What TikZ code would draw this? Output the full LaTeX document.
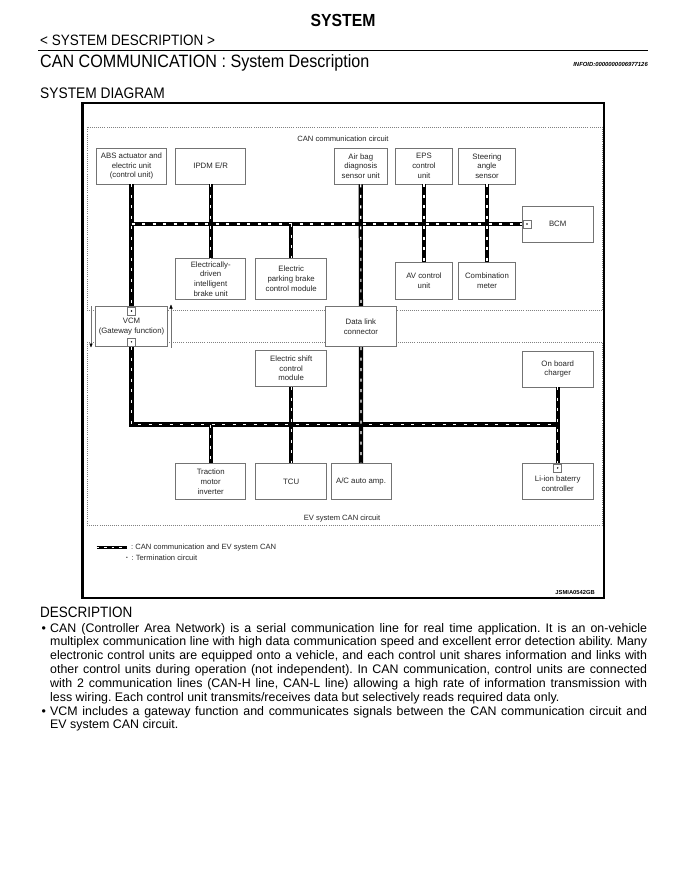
\documentclass[tikz,border=0pt]{standalone}
\usepackage{fontspec}
\setmainfont{Liberation Sans}
\newfontfamily\narrowfont[FakeStretch=0.9]{Liberation Sans}
\usetikzlibrary{arrows.meta}
\frenchspacing
\begin{document}
\begin{tikzpicture}[x=1pt,y=-1pt,
  box/.style={draw=black!55, line width=0.6pt, fill=white, align=center,
    font=\fontsize{7.8}{9.7}\selectfont, text=black!85, inner sep=1pt},
  bus/.style={draw=black, line width=4.2pt,
    postaction={draw=white, line width=1.2pt, dash pattern=on 3pt off 7.5pt}},
  legbus/.style={draw=black, line width=3.6pt,
    postaction={draw=white, line width=1pt, dash pattern=on 2.5pt off 5pt}},
  term/.style={draw=black!55, fill=white, line width=0.5pt, minimum size=8pt, inner sep=0pt,
    path picture={\fill[black] (path picture bounding box.center) circle (0.8pt);}},
  dotrect/.style={draw=black!50, line width=0.6pt, dash pattern=on 0.8pt off 1.3pt},
  garrow/.style={draw=black!55, line width=0.5pt, -{Triangle[length=4pt,width=3.2pt,color=black]}},
  lbl/.style={font=\fontsize{7.6}{8}\selectfont, text=black!85, inner sep=0pt},
  head/.style={font=\narrowfont\fontsize{15}{18}\selectfont, inner sep=0pt, anchor=base west},
  body/.style={font=\fontsize{12.4}{14}\selectfont, inner sep=0pt, anchor=base west}
]
\useasboundingbox (0,0) rectangle (685,888);
\fill[white] (0,0) rectangle (685,888);

% ---------- page headings ----------
\node[font=\narrowfont\bfseries\fontsize{17.5}{20}\selectfont, inner sep=0pt, anchor=base] (title) at (343,27) {SYSTEM};
\node[head] (sec) at (40,46) {< SYSTEM DESCRIPTION >};
\coordinate (ruleL) at (38,50.5);
\coordinate (ruleR) at (648,50.5);
\draw[line width=1.8pt] (ruleL) -- (ruleR);
\node[font=\narrowfont\fontsize{17.9}{20}\selectfont, inner sep=0pt, anchor=base west] (cantitle) at (40,68) {CAN COMMUNICATION : System Description};
\node[font=\bfseries\itshape\fontsize{5.9}{6}\selectfont, inner sep=0pt, anchor=base east] (infoid) at (648,66.5) {INFOID:0000000006977126};
\node[head, font=\narrowfont\fontsize{15.3}{18}\selectfont] (sysdiag) at (40,99) {SYSTEM DIAGRAM};

% ---------- diagram frame ----------
\draw[line width=2.2pt] (82.5,103) rectangle (604,598);
\draw[dotrect] (87.3,127.3) rectangle (602.7,310.7);
\draw[dotrect] (87.3,342) rectangle (602.7,525);
\node[lbl, anchor=base] (canlbl) at (343,141.5) {CAN communication circuit};
\node[lbl, anchor=base] (evlbl) at (342,520) {EV system CAN circuit};

% ---------- boxes ----------
\node[box, minimum width=70pt, minimum height=36pt] (abs) at (131.5,166) {ABS actuator and\\electric unit\\(control unit)};
\node[box, minimum width=70pt, minimum height=36pt] (ipdm) at (210.7,166) {IPDM E/R};
\node[box, minimum width=53pt, minimum height=36pt] (airbag) at (360.8,166) {Air bag\\diagnosis\\sensor unit};
\node[box, minimum width=56.6pt, minimum height=36pt] (eps) at (424,166) {EPS\\control\\unit};
\node[box, minimum width=57.4pt, minimum height=36pt] (steer) at (487,166) {Steering\\angle\\sensor};
\node[box, minimum width=71.3pt, minimum height=36pt] (bcm) at (557.7,224) {BCM};
\node[box, minimum width=70pt, minimum height=40.3pt] (edib) at (210.7,278.8) {Electrically-\\driven\\intelligent\\brake unit};
\node[box, minimum width=71pt, minimum height=40.3pt] (epb) at (291.2,278.8) {Electric\\parking brake\\control module};
\node[box, minimum width=56.6pt, minimum height=36.3pt] (av) at (424,280.8) {AV control\\unit};
\node[box, minimum width=57.4pt, minimum height=36.3pt] (comb) at (487,280.8) {Combination\\meter};
\node[box, minimum width=71.6pt, minimum height=40.7pt] (vcm) at (131.5,326.4) {VCM\\(Gateway function)};
\node[box, minimum width=70.3pt, minimum height=40.7pt] (dlc) at (360.9,326.4) {Data link\\connector};
\node[box, minimum width=71pt, minimum height=36.4pt] (esm) at (291.2,368.5) {Electric shift\\control\\module};
\node[box, minimum width=71.3pt, minimum height=36.3pt] (obc) at (557.7,369) {On board\\charger};
\node[box, minimum width=70pt, minimum height=36.2pt] (tmi) at (210.7,481.6) {Traction\\motor\\inverter};
\node[box, minimum width=71pt, minimum height=36.2pt] (tcu) at (291.2,481.6) {TCU};
\node[box, minimum width=60pt, minimum height=36.2pt] (ac) at (361,481.6) {A/C auto amp.};
\node[box, minimum width=71.3pt, minimum height=36.2pt] (li) at (557.7,481.6) {\\Li-ion baterry\\controller};

% ---------- CAN communication circuit bus ----------
\coordinate (evR) at (557.7,424.5);
\draw[bus] (abs.south) -- (vcm.north);
\draw[bus] (abs.south |- bcm.west) -- (bcm.west);
\draw[bus] (ipdm.south) -- (edib.north);
\draw[bus] (epb.north |- bcm.west) -- (epb.north);
\draw[bus] (airbag.south) -- (dlc.north);
\draw[bus] (eps.south) -- (av.north);
\draw[bus] (steer.south) -- (comb.north);

% ---------- EV system CAN bus ----------
\draw[bus] (vcm.south) |- (evR);
\draw[bus] (obc.south) -- (li.north);
\draw[bus] (tmi.north |- evR) -- (tmi.north);
\draw[bus] (esm.south) -- (tcu.north);
\draw[bus] (dlc.south) -- (ac.north);

% ---------- termination circuits ----------
\node[term, anchor=north] (tvcm1) at ([yshift=-1pt]vcm.north) {};
\node[term, anchor=south] (tvcm2) at ([yshift=1pt]vcm.south) {};
\node[term, anchor=west] (tbcm) at ([xshift=1pt]bcm.west) {};
\node[term, anchor=north] (tli) at ([yshift=-0.5pt]li.north) {};

% ---------- gateway arrows ----------
\coordinate (gl1) at (91,306);
\coordinate (gl2) at (91,347.5);
\coordinate (gr1) at (171,347.5);
\coordinate (gr2) at (171,304.5);
\draw[garrow] (gl1) -- (gl2);
\draw[garrow] (gr1) -- (gr2);

% ---------- legend ----------
\coordinate (lg1) at (96.5,547.3);
\coordinate (lg2) at (127,547.3);
\draw[legbus] (lg1) -- (lg2);
\node[lbl, anchor=base west] (lgt1) at (131,549.8) {: CAN communication and EV system CAN};
\node[lbl, font=\fontsize{5}{6}\selectfont, anchor=base] (lgdot) at (127,559.5) {\textbullet};
\node[lbl, anchor=base west] (lgt2) at (131.5,560.5) {: Termination circuit};
\node[font=\bfseries\fontsize{5.8}{6}\selectfont, inner sep=0pt, anchor=base east] (jsm) at (595,594) {JSMIA0542GB};

% ---------- description ----------
\node[head] (desct) at (40,617) {DESCRIPTION};
\node[body] (b1) at (41.5,632) {\textbullet};
\node[body] (d1) at (50,632) {\makebox[597pt][s]{CAN (Controller Area Network) is a serial communication line for real time application. It is an on-vehicle}};
\node[body] (d2) at (50,645.85) {\makebox[597pt][s]{multiplex communication line with high data communication speed and excellent error detection ability. Many}};
\node[body] (d3) at (50,659.7) {\makebox[597pt][s]{electronic control units are equipped onto a vehicle, and each control unit shares information and links with}};
\node[body] (d4) at (50,673.55) {\makebox[597pt][s]{other control units during operation (not independent). In CAN communication, control units are connected}};
\node[body] (d5) at (50,687.4) {\makebox[597pt][s]{with 2 communication lines (CAN-H line, CAN-L line) allowing a high rate of information transmission with}};
\node[body] (d6) at (50,701.25) {less wiring. Each control unit transmits/receives data but selectively reads required data only.};
\node[body] (b2) at (41.5,715.1) {\textbullet};
\node[body] (d7) at (50,715.1) {\makebox[597pt][s]{VCM includes a gateway function and communicates signals between the CAN communication circuit and}};
\node[body] (d8) at (50,728.95) {EV system CAN circuit.};
\end{tikzpicture}
\end{document}
